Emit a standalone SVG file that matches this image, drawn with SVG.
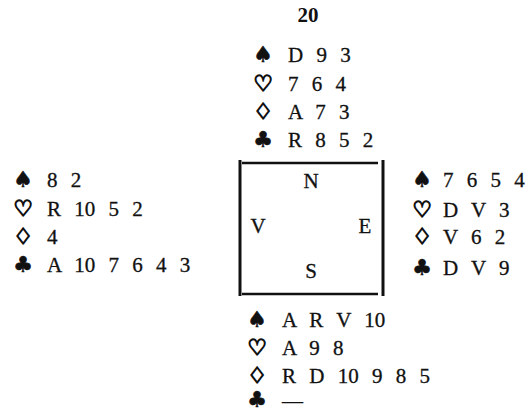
<svg xmlns="http://www.w3.org/2000/svg" width="528" height="412" viewBox="0 0 528 412">
<style>
  .t { font-family: "Liberation Serif", "Times New Roman", serif; font-size: 21px; fill: #111; stroke: #111; stroke-width: 0.3; word-spacing: 8px; }
  .s { font-family: "DejaVu Sans", sans-serif; font-size: 22px; fill: #111; stroke: #111; stroke-width: 0.6; text-anchor: middle; }
  .o { stroke-width: 1.4; }
  .h { font-family: "Liberation Serif", serif; font-size: 21px; font-weight: bold; fill: #111; text-anchor: middle; }
  .c { font-family: "Liberation Serif", serif; font-size: 21px; fill: #111; stroke: #111; stroke-width: 0.3; text-anchor: middle; }
  .v { stroke: #111; stroke-width: 3; }
  .hz { stroke: #111; stroke-width: 2.5; }
</style>
<rect width="528" height="412" fill="#fff"/>
<text id="title" class="h" x="308" y="22">20</text>
<g id="north">
  <text class="s" x="263" y="62">♠</text><text class="t" x="288" y="62">D 9 3</text>
  <text class="s o" x="263" y="91">♡</text><text class="t" x="288" y="91">7 6 4</text>
  <text class="s o" x="263" y="119">♢</text><text class="t" x="288" y="119">A 7 3</text>
  <text class="s" x="263" y="147">♣</text><text class="t" x="288" y="147">R 8 5 2</text>
</g>
<g id="west">
  <text class="s" x="23" y="187">♠</text><text class="t" x="47" y="187">8 2</text>
  <text class="s o" x="23" y="216">♡</text><text class="t" x="47" y="216">R 10 5 2</text>
  <text class="s o" x="23" y="244">♢</text><text class="t" x="47" y="244">4</text>
  <text class="s" x="23" y="272">♣</text><text class="t" x="47" y="272">A 10 7 6 4 3</text>
</g>
<g id="table">
  <line class="v" x1="240" y1="160" x2="240" y2="296"/>
  <line class="v" x1="383" y1="160" x2="383" y2="296"/>
  <line class="hz" x1="242" y1="163" x2="378" y2="163"/>
  <line class="hz" x1="242" y1="294" x2="378" y2="294"/>
  <text class="c" x="311" y="188">N</text>
  <text class="c" x="258" y="233">V</text>
  <text class="c" x="365" y="233">E</text>
  <text class="c" x="311" y="278">S</text>
</g>
<g id="east">
  <text class="s" x="422" y="187">♠</text><text class="t" x="443" y="187">7 6 5 4</text>
  <text class="s o" x="422" y="217">♡</text><text class="t" x="443" y="217">D V 3</text>
  <text class="s o" x="422" y="244">♢</text><text class="t" x="443" y="244">V 6 2</text>
  <text class="s" x="422" y="275">♣</text><text class="t" x="443" y="275">D V 9</text>
</g>
<g id="south">
  <text class="s" x="257" y="327">♠</text><text class="t" x="282" y="327">A R V 10</text>
  <text class="s o" x="257" y="355">♡</text><text class="t" x="282" y="355">A 9 8</text>
  <text class="s o" x="257" y="383">♢</text><text class="t" x="282" y="383">R D 10 9 8 5</text>
  <text class="s" x="257" y="407" font-size="19">♣</text><text class="t" x="282" y="408">—</text>
</g>
</svg>
